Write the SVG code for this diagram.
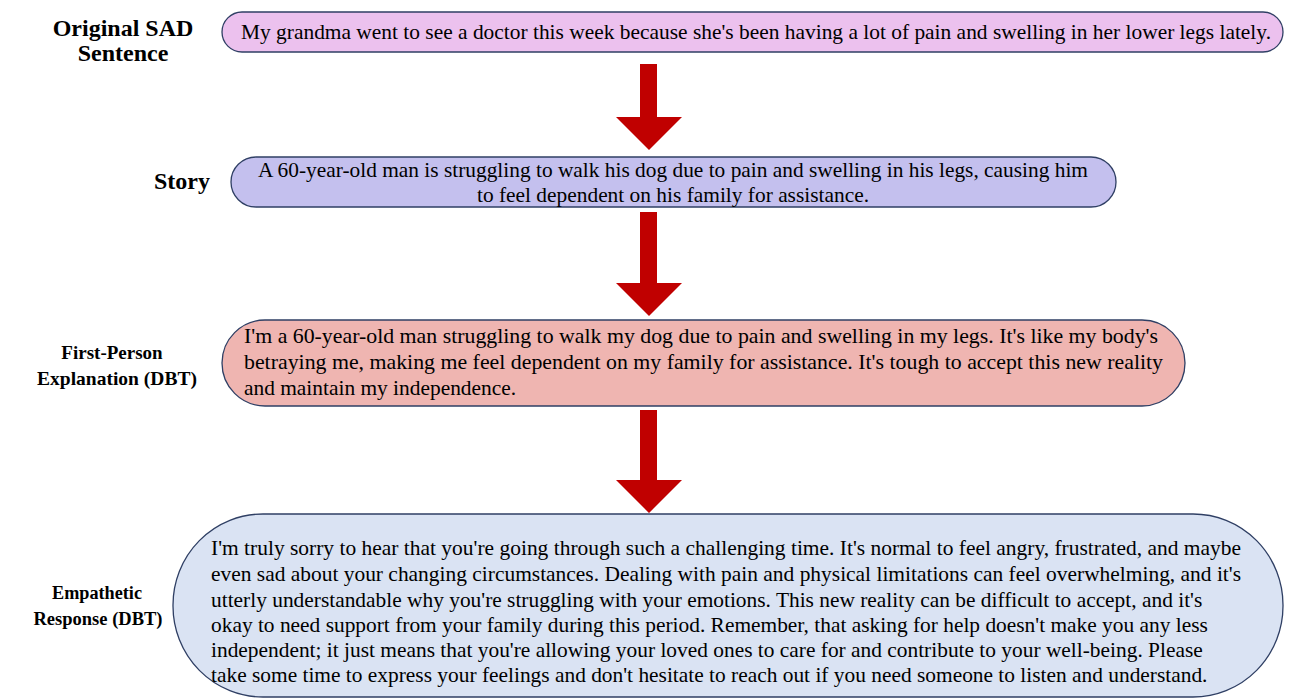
<svg xmlns="http://www.w3.org/2000/svg" width="1290" height="699" viewBox="0 0 1290 699">
<style>
.lbl{font-family:"Liberation Serif","Times New Roman",serif;font-weight:bold;fill:#000;text-anchor:middle}
.txt{font-family:"Liberation Serif","Times New Roman",serif;font-size:21.4px;fill:#000}
.box{stroke:#2f3f64;stroke-width:1.3}
.arr{fill:#c00000}
</style>
<rect width="1290" height="699" fill="#fff"/>
<g id="connectors">
<path class="arr" d="M640,64 H657 V117 H682 L649,150 L616,117 H640 Z"/>
<path class="arr" d="M640,212 H657 V283 H682 L649,316 L616,283 H640 Z"/>
<path class="arr" d="M640,410 H657 V480 H682 L649,513 L616,480 H640 Z"/>
</g>
<g id="label-original">
<text class="lbl" x="123" y="36" font-size="24">Original SAD</text>
<text class="lbl" x="123" y="61" font-size="24">Sentence</text>
</g>
<g id="node-original">
<rect class="box" x="222" y="12" width="1061" height="40" rx="20" ry="20" fill="#ecc1ee"/>
<text class="txt" x="756" y="39" text-anchor="middle" textLength="1030" lengthAdjust="spacingAndGlyphs">My grandma went to see a doctor this week because she's been having a lot of pain and swelling in her lower legs lately.</text>
</g>
<g id="label-story">
<text class="lbl" x="182" y="189" font-size="24">Story</text>
</g>
<g id="node-story">
<rect class="box" x="231" y="157" width="885" height="50" rx="25" ry="25" fill="#c4c0ee"/>
<text class="txt" x="673" y="177" text-anchor="middle" font-size="21.2" textLength="830" lengthAdjust="spacingAndGlyphs">A 60-year-old man is struggling to walk his dog due to pain and swelling in his legs, causing him</text>
<text class="txt" x="673" y="202" text-anchor="middle" font-size="21.2">to feel dependent on his family for assistance.</text>
</g>
<g id="label-first">
<text class="lbl" x="112" y="359" font-size="19">First-Person</text>
<text class="lbl" x="117" y="385" font-size="19.5">Explanation (DBT)</text>
</g>
<g id="node-first">
<rect class="box" x="222" y="320" width="963" height="86" rx="43" ry="43" fill="#efb5b1"/>
<text class="txt" x="244" y="343" font-size="22" textLength="914" lengthAdjust="spacingAndGlyphs">I'm a 60-year-old man struggling to walk my dog due to pain and swelling in my legs. It's like my body's</text>
<text class="txt" x="244" y="369" font-size="22" textLength="919" lengthAdjust="spacingAndGlyphs">betraying me, making me feel dependent on my family for assistance. It's tough to accept this new reality</text>
<text class="txt" x="244" y="395" font-size="22">and maintain my independence.</text>
</g>
<g id="label-empathetic">
<text class="lbl" x="97" y="599" font-size="18.2">Empathetic</text>
<text class="lbl" x="98" y="625" font-size="18.5">Response (DBT)</text>
</g>
<g id="node-empathetic">
<rect class="box" x="173" y="514" width="1110" height="183" rx="90" ry="91" fill="#dae3f3"/>
<text class="txt" x="211" y="555" font-size="21.2" textLength="1030" lengthAdjust="spacingAndGlyphs">I'm truly sorry to hear that you're going through such a challenging time. It's normal to feel angry, frustrated, and maybe</text>
<text class="txt" x="211" y="581" font-size="21.2" textLength="1030" lengthAdjust="spacingAndGlyphs">even sad about your changing circumstances. Dealing with pain and physical limitations can feel overwhelming, and it's</text>
<text class="txt" x="211" y="607" font-size="21.2">utterly understandable why you're struggling with your emotions. This new reality can be difficult to accept, and it's</text>
<text class="txt" x="211" y="632" font-size="21.2">okay to need support from your family during this period. Remember, that asking for help doesn't make you any less</text>
<text class="txt" x="211" y="657" font-size="21.2">independent; it just means that you're allowing your loved ones to care for and contribute to your well-being. Please</text>
<text class="txt" x="211" y="682" font-size="21.2">take some time to express your feelings and don't hesitate to reach out if you need someone to listen and understand.</text>
</g>
</svg>
